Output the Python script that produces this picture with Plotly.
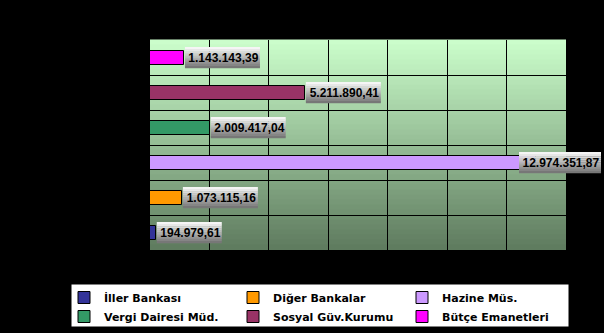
import plotly.graph_objects as go

categories = ["İller Bankası", "Diğer Bankalar", "Hazine Müs.",
              "Vergi Dairesi Müd.", "Sosyal Güv.Kurumu", "Bütçe Emanetleri"]
values = [194979.61, 1073115.16, 12974351.87, 2009417.04, 5211890.41, 1143143.39]
labels = ["194.979,61", "1.073.115,16", "12.974.351,87",
          "2.009.417,04", "5.211.890,41", "1.143.143,39"]
colors = ["#333399", "#FF9900", "#CC99FF", "#339966", "#993366", "#FF00FF"]
# label too long to fit right of its bar -> pinned to the chart's right edge
label_at_edge = [False, False, True, False, False, False]

fig = go.Figure()
for cat, val, col in zip(categories, values, colors):
    fig.add_trace(go.Bar(
        y=[cat], x=[val], name=cat, orientation="h",
        marker=dict(color=col, line=dict(color="black", width=1)),
        width=0.4, hoverinfo="skip",
    ))

# gradient plot background
top = (204, 255, 204)
bot = (94, 122, 94)
N = 42
shapes = []
for i in range(N):
    t = (i + 0.5) / N
    c = tuple(round(top[k] + (bot[k] - top[k]) * t) for k in range(3))
    shapes.append(dict(type="rect", xref="x domain", yref="y domain",
                       x0=0, x1=1, y0=1 - (i + 1) / N, y1=1 - i / N + 0.002,
                       fillcolor="rgb(%d,%d,%d)" % c, line=dict(width=0),
                       layer="below"))
# legend box
shapes.append(dict(type="rect", xref="paper", yref="paper",
                   x0=(71 - 150) / 416, x1=(569 - 150) / 416,
                   y0=-(327 - 250) / 210, y1=-(284 - 250) / 210,
                   fillcolor="white", line=dict(color="black", width=1),
                   layer="below"))


def text_width(s, size=12):
    w = 0.0
    for ch in s:
        w += 0.556 if ch.isdigit() else 0.278
    return w * size


annotations = []
H = 21
NB = 10
for idx, (val, lab, edge) in enumerate(zip(values, labels, label_at_edge)):
    bw = round(text_width(lab)) + 5
    if edge:
        xref, xanc, x0 = "paper", 1, 35 - bw
    else:
        xref, xanc, x0 = "x", val, 1
    for j in range(NB):
        t = (j + 0.5) / NB
        g = round(252 - (252 - 112) * t)
        shapes.append(dict(type="rect", xref=xref, yref="y",
                           xsizemode="pixel", ysizemode="pixel",
                           xanchor=xanc, yanchor=idx,
                           x0=x0, x1=x0 + bw,
                           y0=H / 2 - (j + 1) * H / NB - 0.3, y1=H / 2 - j * H / NB,
                           fillcolor="rgb(%d,%d,%d)" % (g, g, g),
                           line=dict(width=0), layer="above"))
    annotations.append(dict(
        x=xanc, y=idx, xref=xref, yref="y", text=lab, showarrow=False,
        xanchor="left", yanchor="middle", xshift=x0,
        width=bw, align="center",
        font=dict(family="Liberation Sans, Arial", size=12,
                  color="black", weight="bold"),
        bgcolor="rgba(0,0,0,0)", borderpad=0,
    ))

fig.update_layout(
    width=604, height=333,
    paper_bgcolor="black", plot_bgcolor="rgba(0,0,0,0)",
    margin=dict(l=150, r=38, t=40, b=83, autoexpand=False),
    barmode="overlay", bargap=0,
    showlegend=True,
    legend=dict(orientation="h", x=(64 - 150) / 416, y=-(283 - 250) / 210,
                xanchor="left", yanchor="top",
                bgcolor="rgba(0,0,0,0)", borderwidth=0,
                entrywidth=124, entrywidthmode="pixels",
                font=dict(family="DejaVu Sans", size=11, color="black", weight="bold"),
                traceorder="normal", itemwidth=30),
    xaxis=dict(range=[0, 14e6], dtick=2e6, showgrid=True, gridcolor="black",
               gridwidth=1, showticklabels=False, zeroline=False, showline=False),
    yaxis=dict(categoryorder="array", categoryarray=categories,
               range=[-0.5, 5.5], showgrid=True, gridcolor="black", gridwidth=1,
               tickson="boundaries", showticklabels=False, ticks="",
               zeroline=False, showline=False),
    shapes=shapes, annotations=annotations,
)

fig.write_html("out.html")
